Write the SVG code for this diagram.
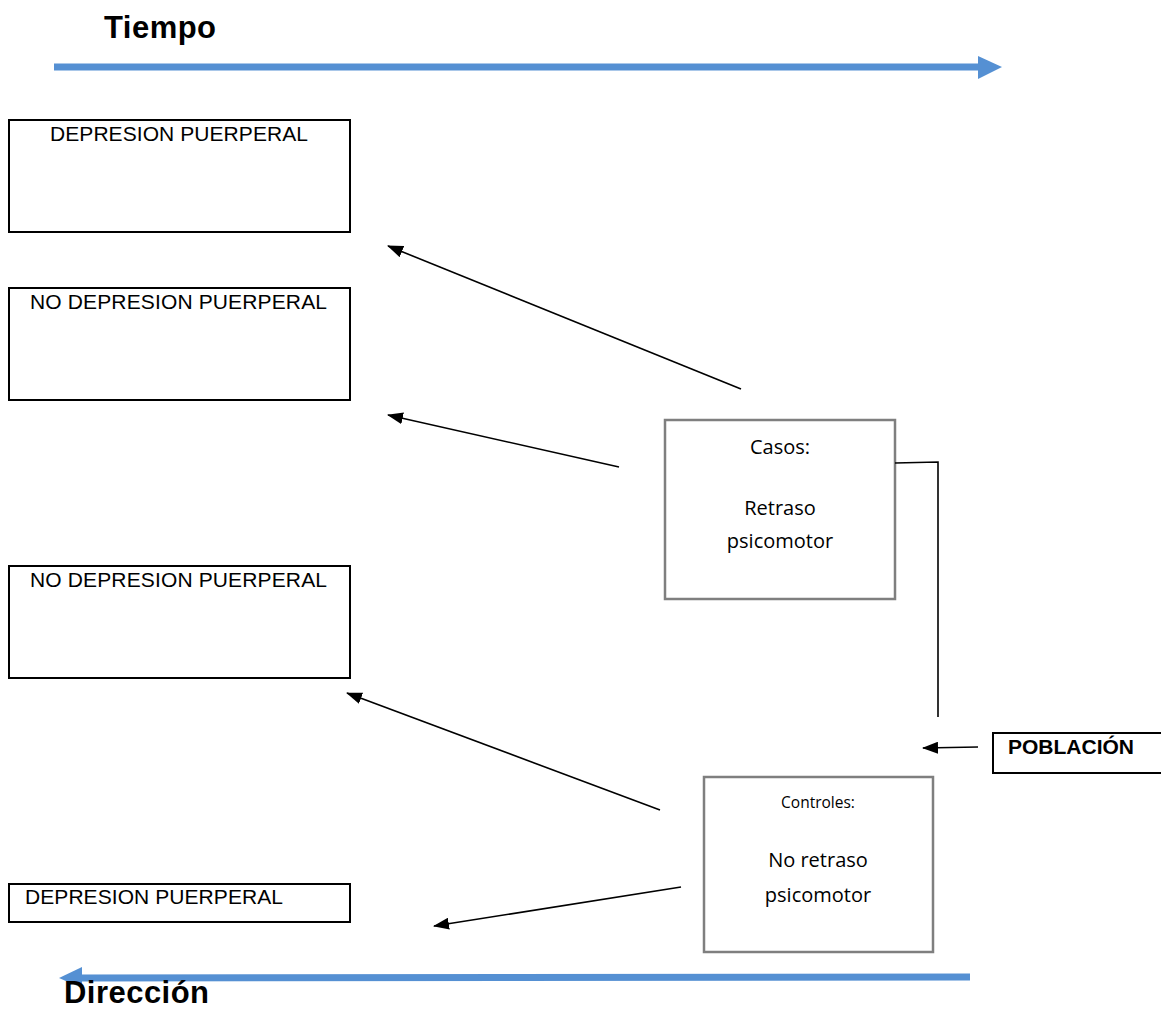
<svg xmlns="http://www.w3.org/2000/svg" width="1161" height="1009" viewBox="0 0 1161 1009">
<defs>
<style>
.box{fill:#fff;stroke:#000;stroke-width:2}
.gbox{fill:#fff;stroke:#7f7f7f;stroke-width:2.5}
.lbl{font-family:"Liberation Sans",Arial,sans-serif;font-size:21px;fill:#000}
.cal{font-family:"Open Sans","Noto Sans",sans-serif;fill:#000;text-anchor:middle}
.big{font-family:"Liberation Sans",Arial,sans-serif;font-weight:bold;font-size:31px;fill:#000}
.conn{stroke:#000;stroke-width:1.6;fill:none}
.blue{stroke:#5590d3;stroke-width:7;fill:none}
</style>
<marker id="ah" viewBox="0 0 16 12" refX="15" refY="6" markerWidth="16" markerHeight="12" markerUnits="userSpaceOnUse" orient="auto">
<path d="M0,0 L16,6 L0,12 z" fill="#000"/>
</marker>
</defs>
<rect width="1161" height="1009" fill="#fff"/>

<g id="tiempo">
<text class="big" x="104" y="38" textLength="112">Tiempo</text>
<line class="blue" x1="54" y1="67" x2="980" y2="67"/>
<polygon points="978,56 1002,67 978,79" fill="#5590d3"/>
</g>

<g id="direccion">
<line class="blue" x1="970" y1="977" x2="80" y2="978"/>
<polygon points="82,967 59,978 82,988" fill="#5590d3"/>
<text class="big" x="64" y="1003" textLength="145">Dirección</text>
</g>

<g id="box1">
<rect class="box" x="9" y="120" width="341" height="112"/>
<text class="lbl" x="50" y="141" textLength="258">DEPRESION PUERPERAL</text>
</g>
<g id="box2">
<rect class="box" x="9" y="288" width="341" height="112"/>
<text class="lbl" x="30" y="309" textLength="297">NO DEPRESION PUERPERAL</text>
</g>
<g id="box3">
<rect class="box" x="9" y="566" width="341" height="112"/>
<text class="lbl" x="30" y="587" textLength="297">NO DEPRESION PUERPERAL</text>
</g>
<g id="box4">
<rect class="box" x="9" y="884" width="341" height="38"/>
<text class="lbl" x="25" y="904" textLength="258">DEPRESION PUERPERAL</text>
</g>

<g id="casos">
<rect class="gbox" x="665" y="420" width="230" height="179"/>
<text class="cal" x="780" y="454" font-size="20">Casos:</text>
<text class="cal" x="780" y="515" font-size="20">Retraso</text>
<text class="cal" x="780" y="548" font-size="20">psicomotor</text>
</g>

<g id="controles">
<rect class="gbox" x="704" y="777" width="229" height="175"/>
<text class="cal" x="818" y="808" font-size="15.5">Controles:</text>
<text class="cal" x="818" y="867" font-size="20">No retraso</text>
<text class="cal" x="818" y="902" font-size="20">psicomotor</text>
</g>

<g id="poblacion">
<rect class="box" x="993" y="733" width="175" height="40"/>
<text class="lbl" x="1008" y="754" font-weight="bold" font-size="20" textLength="126">POBLACIÓN</text>
</g>

<g id="connectors">
<line class="conn" x1="741" y1="389" x2="388" y2="246" marker-end="url(#ah)"/>
<line class="conn" x1="619" y1="467" x2="388" y2="415" marker-end="url(#ah)"/>
<line class="conn" x1="660" y1="810" x2="347" y2="693" marker-end="url(#ah)"/>
<line class="conn" x1="681" y1="887" x2="434" y2="926" marker-end="url(#ah)"/>
<line class="conn" x1="978" y1="747" x2="923" y2="748" marker-end="url(#ah)"/>
<polyline class="conn" points="895,463 938,462 938,717"/>
</g>
</svg>
